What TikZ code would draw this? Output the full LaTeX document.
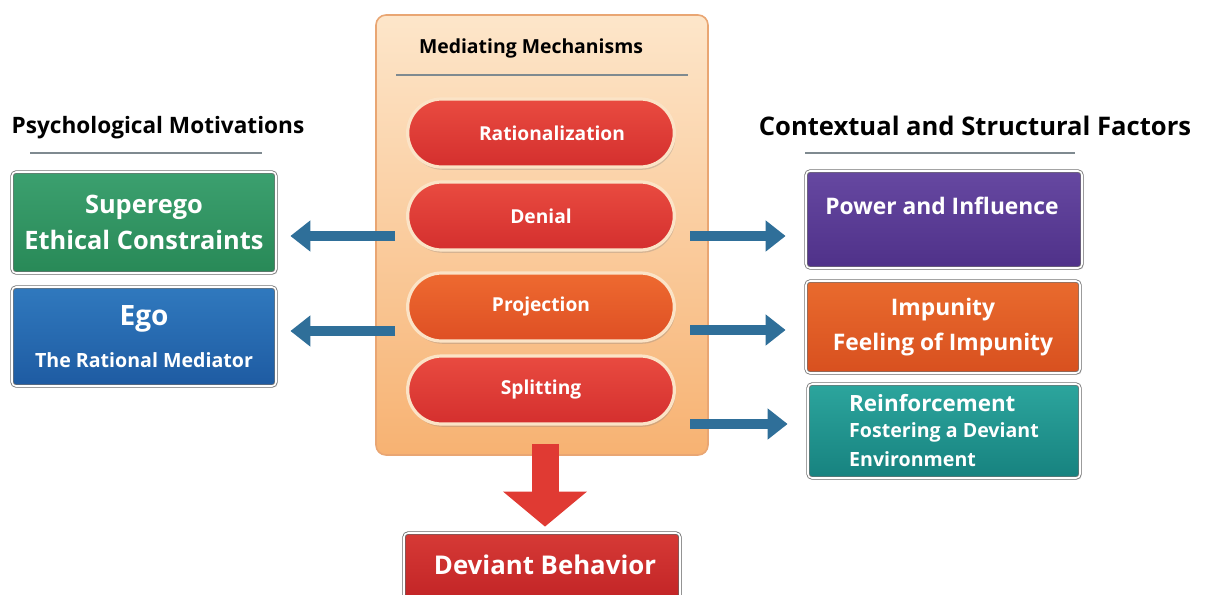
\documentclass[tikz,border=0pt]{standalone}
\usepackage{fontspec}
\setmainfont{Open Sans}
\usetikzlibrary{positioning}
\usetikzlibrary{arrows.meta}
\usetikzlibrary{shapes.misc}
\usetikzlibrary{shadows}

\definecolor{panelTop}{HTML}{FDE6CA}
\definecolor{panelBot}{HTML}{F7B272}
\definecolor{panelEdge}{HTML}{E9A673}
\definecolor{pillTop}{HTML}{E94B40}
\definecolor{pillBot}{HTML}{D42F2E}
\definecolor{projTop}{HTML}{EE6A30}
\definecolor{projBot}{HTML}{DE4F24}
\definecolor{pillEdge}{HTML}{FBE3C6}
\definecolor{arrowBlue}{HTML}{2F6F99}
\definecolor{arrowRed}{HTML}{E03A33}
\definecolor{hdrLine}{HTML}{7F8A90}
\definecolor{greenTop}{HTML}{3CA06F}
\definecolor{greenBot}{HTML}{288957}
\definecolor{blueTop}{HTML}{3079BE}
\definecolor{blueBot}{HTML}{1E5BA2}
\definecolor{purpTop}{HTML}{6648A1}
\definecolor{purpBot}{HTML}{4F3189}
\definecolor{orngTop}{HTML}{E96B2E}
\definecolor{orngBot}{HTML}{D8501F}
\definecolor{tealTop}{HTML}{2CA59D}
\definecolor{tealBot}{HTML}{17827F}
\definecolor{devTop}{HTML}{D63A36}
\definecolor{devBot}{HTML}{C22426}

\tikzset{
  header/.style={font=\bfseries\fontsize{11.3}{13}\selectfont, text=black},
  box/.style={rectangle, rounded corners=2pt, draw=black!55, double=white!92,
    double distance=0.8pt, line width=0.4pt, text=white, align=center,
    font=\bfseries,
    drop shadow={opacity=0.25, shadow xshift=0.8pt, shadow yshift=-0.8pt}},
  pill/.style={rounded rectangle, minimum width=140pt, minimum height=34pt,
    draw=pillEdge, line width=1.6pt, top color=pillTop, bottom color=pillBot,
    text=white, font=\bfseries\fontsize{9.6}{11}\selectfont,
    drop shadow={opacity=0.3, shadow xshift=0.6pt, shadow yshift=-1.4pt}},
  sidearrow/.style={draw=arrowBlue, line width=5pt,
    -{Triangle[width=15pt,length=10pt]}},
  downarrow/.style={draw=arrowRed, line width=13.5pt,
    -{Triangle[width=41pt,length=17.5pt]}},
  hdrrule/.style={draw=hdrLine, line width=0.8pt},
}

\begin{document}
\begin{tikzpicture}[x=0.5pt, y=-0.5pt]
  \useasboundingbox (0,0) rectangle (1208,594);

  % centre panel
  \node[rectangle, rounded corners=5pt, draw=panelEdge, line width=0.8pt,
        top color=panelTop, bottom color=panelBot,
        minimum width=166pt, minimum height=220pt] (panel) at (542,235) {};
  \node[header, font=\bfseries\fontsize{9.7}{11}\selectfont] (midhead) at (531,48) {Mediating Mechanisms};
  \draw[hdrrule] (396,75) -- (688,75);

  \node[pill] (ratio) at (541,133) {\hspace{11pt}Rationalization};
  \node[pill] (denial) at (541,216) {Denial};
  \node[pill, top color=projTop, bottom color=projBot] (proj) at (541,307) {\raisebox{-2pt}{Projection}\hspace{6pt}};
  \node[pill] (split) at (541,390) {Splitting\hspace{11pt}};

  % left column
  \node[header] (lhead) at (158,128) {Psychological Motivations};
  \draw[hdrrule] (30,153) -- (262,153);
  \node[box, top color=greenTop, bottom color=greenBot,
        minimum width=132pt, minimum height=50.5pt,
        font=\bfseries\fontsize{12.7}{18}\selectfont] (super) at (144,222.5)
        {Superego\\Ethical Constraints};
  \node[box, top color=blueTop, bottom color=blueBot,
        minimum width=132pt, minimum height=49.5pt] (ego) at (144,336.5)
        {{\fontsize{14}{16}\selectfont Ego}\\[9pt]{\fontsize{9.8}{11}\selectfont The Rational Mediator}};

  % right column
  \node[header, font=\bfseries\fontsize{12.8}{15}\selectfont] (rhead) at (975,126) {Contextual and Structural Factors};
  \draw[hdrrule] (805,153) -- (1075,153);
  \node[box, top color=purpTop, bottom color=purpBot,
        minimum width=138pt, minimum height=48.5pt] (power) at (944,219.5) {};
  \node[text=white, font=\bfseries\fontsize{11.4}{13}\selectfont] (powertxt) at (942,206) {Power and Influence};
  \node[box, top color=orngTop, bottom color=orngBot,
        minimum width=137pt, minimum height=46pt,
        font=\bfseries\fontsize{11.4}{17.5}\selectfont] (impun) at (943,327)
        {Impunity\\Feeling of Impunity};
  \node[box, top color=tealTop, bottom color=tealBot,
        minimum width=136pt, minimum height=47pt, align=left] (reinf) at (944,431)
        {{\fontsize{11.2}{13}\selectfont Reinforcement}\\[1pt]{\fontsize{9.8}{14}\selectfont Fostering a Deviant}\\[2.5pt]{\fontsize{9.8}{14}\selectfont Environment}};

  % outcome
  \node[box, draw=black!60, top color=devTop, bottom color=devBot,
        minimum width=138pt, minimum height=33.5pt] (deviant) at (542,566.5) {};
  \node[text=white, font=\bfseries\fontsize{12.9}{15}\selectfont] (devtxt) at (545,565) {Deviant Behavior};

  % arrows
  \coordinate (la1) at (395,236);
  \coordinate (la2) at (395,331);
  \coordinate (ra1) at (690,236);
  \coordinate (ra2) at (690,330);
  \coordinate (ra3) at (690,424);
  \draw[sidearrow] (la1) -- ([xshift=7pt]la1 -| super.east);
  \draw[sidearrow] (la2) -- ([xshift=7pt]la2 -| ego.east);
  \draw[sidearrow] (ra1) -- ([xshift=-10pt]ra1 -| power.west);
  \draw[sidearrow] (ra2) -- ([xshift=-10pt]ra2 -| impun.west);
  \draw[sidearrow] (ra3) -- ([xshift=-10pt]ra3 -| reinf.west);
  \draw[downarrow] ([yshift=6pt]panel.south -| 545,0) -- ([yshift=3pt]deviant.north -| 545,0);
\end{tikzpicture}
\end{document}
